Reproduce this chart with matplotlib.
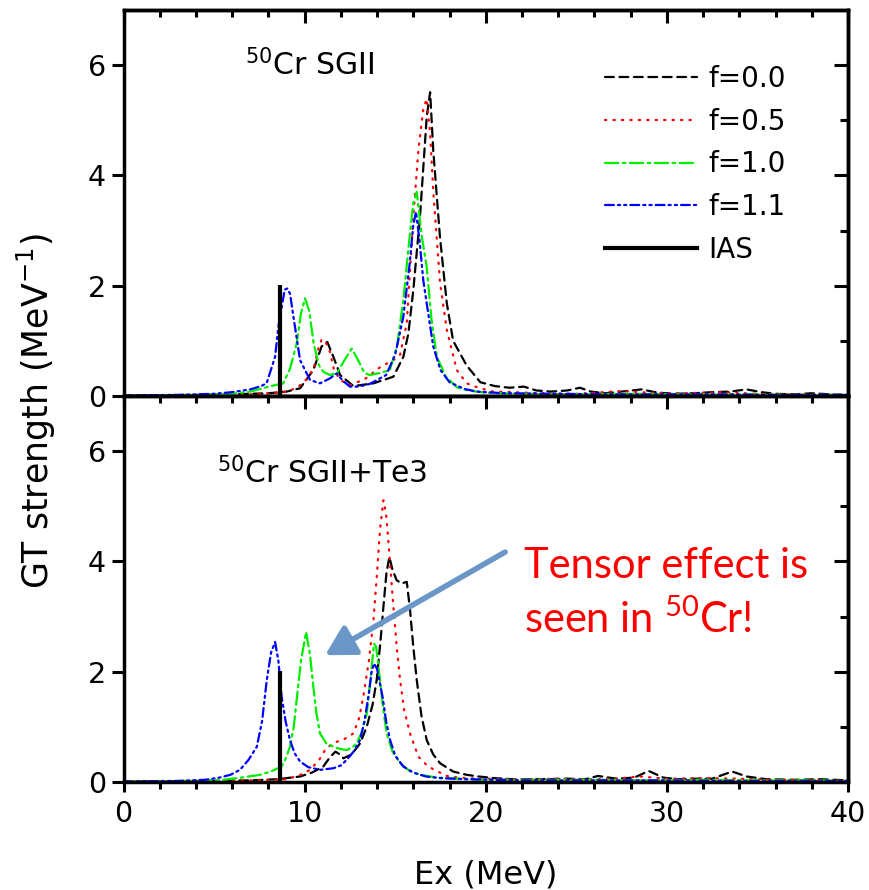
import matplotlib
matplotlib.use('Agg')
import matplotlib.pyplot as plt
from matplotlib.lines import Line2D
from matplotlib.ticker import MultipleLocator, FixedLocator
import matplotlib.patheffects as pe

plt.rcParams['font.family'] = ['DejaVu Sans']
plt.rcParams['mathtext.default'] = 'regular'

# ---- data ----
labels = ['f=0.0', 'f=0.5', 'f=1.0', 'f=1.1']
ias_x = 8.65
ias_height = 2.02

# top panel: SGII
sg_f00_x = [0, 4, 6, 8, 9, 9.75, 10.48, 10.94, 11.25, 11.59, 11.96, 12.7, 13.8, 14.9, 15.45, 15.73,
            16.0, 16.37, 16.74, 16.93, 17.1, 17.47, 17.85, 18.2, 18.95, 19.7, 20.5, 21.3, 22.1, 22.8,
            23.6, 24.5, 25.2, 25.8, 26.6, 27.5, 28.6, 29.5, 30.5, 31.5, 32.5, 33.5, 34.4, 35.2, 36,
            37, 38, 39, 40]
sg_f00_y = [0.01, 0.02, 0.03, 0.05, 0.08, 0.14, 0.47, 0.9, 0.98, 0.71, 0.38, 0.18, 0.23, 0.35, 0.71,
            1.14, 1.92, 3.25, 5.06, 5.51, 4.46, 2.89, 1.68, 1.0, 0.55, 0.25, 0.18, 0.15, 0.17, 0.1,
            0.08, 0.1, 0.15, 0.08, 0.05, 0.08, 0.12, 0.06, 0.04, 0.05, 0.07, 0.08, 0.12, 0.07, 0.04,
            0.03, 0.05, 0.03, 0.02]

sg_f05_x = [0, 5, 7, 8, 8.6, 9.0, 9.6, 10.1, 10.5, 10.75, 10.94, 11.2, 11.4, 11.6, 11.95, 12.5, 13.3,
            14.2, 14.9, 15.27, 15.64, 16.0, 16.28, 16.55, 16.74, 16.93, 17.11, 17.48, 17.85, 18.4,
            18.95, 19.6, 20.4, 21.5, 23, 25, 26.5, 27.5, 29, 31, 33, 35, 37, 40]
sg_f05_y = [0.01, 0.02, 0.03, 0.05, 0.06, 0.08, 0.15, 0.3, 0.5, 0.85, 1.03, 0.95, 0.8, 0.5, 0.29, 0.2,
            0.3, 0.53, 0.65, 0.75, 1.32, 3.25, 4.46, 5.2, 5.39, 4.76, 3.67, 2.04, 1.2, 0.47,
            0.23, 0.15, 0.08, 0.07, 0.05, 0.04, 0.07, 0.09, 0.06, 0.05, 0.07, 0.04, 0.03, 0.02]

sg_f10_x = [0, 4, 6, 7, 7.8, 8.4, 8.82, 9.2, 9.56, 9.8, 10.02, 10.25, 10.5, 10.8, 11.03, 11.4, 11.8,
            12.2, 12.6, 12.95, 13.3, 13.6, 14.2, 14.7, 15.1, 15.45, 15.8, 16.0, 16.19, 16.47, 16.74,
            17.0, 17.3, 17.8, 18.4, 19, 20, 22, 25, 28, 31, 34, 37, 40]
sg_f10_y = [0.01, 0.02, 0.04, 0.08, 0.15, 0.2, 0.23, 0.5, 0.95, 1.5, 1.77, 1.55, 0.95, 0.55, 0.44,
            0.38, 0.42, 0.65, 0.86, 0.65, 0.42, 0.38, 0.42, 0.47, 0.9, 1.74, 2.9, 3.5, 3.7, 2.89,
            2.34, 1.4, 0.71, 0.35, 0.16, 0.1, 0.06, 0.04, 0.03, 0.04, 0.03, 0.03, 0.02, 0.02]

sg_f11_x = [0, 3, 5, 6, 7, 7.6, 7.9, 8.37, 8.55, 8.9, 9.05, 9.2, 9.38, 9.75, 10.3, 10.85, 11.4, 11.77,
            12.1, 12.5, 13.0, 13.6, 14.5, 15.0, 15.45, 15.8, 16.0, 16.15, 16.35, 16.55, 16.74, 17.1,
            17.5, 18.0, 18.8, 19.5, 21, 24, 27, 30, 33, 36, 40]
sg_f11_y = [0.01, 0.02, 0.04, 0.07, 0.12, 0.18, 0.23, 0.71, 1.26, 1.93, 1.95, 1.85, 1.44, 0.65, 0.29,
            0.23, 0.32, 0.41, 0.28, 0.17, 0.17, 0.22, 0.38, 0.75, 1.44, 2.4, 3.1, 3.34, 2.8, 2.1,
            1.68, 0.9, 0.47, 0.25, 0.13, 0.08, 0.05, 0.04, 0.03, 0.03, 0.03, 0.02, 0.02]

# bottom panel: SGII+Te3
te_f00_x = [0, 5, 7, 8.5, 9.75, 10.4, 11.03, 11.4, 11.7, 11.95, 12.14, 12.6, 13.06, 13.43, 13.75,
            13.98, 14.2, 14.35, 14.52, 14.68, 14.85, 15.08, 15.35, 15.64, 15.82, 16.0, 16.19, 16.45,
            16.74, 17.1, 17.48, 18.2, 18.95, 19.6, 20.5, 21.5, 23, 24.5, 25.5, 26.2, 27.2, 28.2,
            29.0, 29.8, 30.6, 31.5, 32.5, 33.6, 34.4, 35.5, 37, 38.5, 40]
te_f00_y = [0.01, 0.02, 0.03, 0.05, 0.1, 0.17, 0.28, 0.45, 0.55, 0.5, 0.43, 0.5, 0.7, 1.0, 1.4,
            1.85, 2.6, 3.18, 3.8, 4.08, 3.85, 3.66, 3.6, 3.63, 3.12, 2.45, 1.85, 1.2,
            0.76, 0.5, 0.34, 0.19, 0.13, 0.1, 0.07, 0.05, 0.05, 0.06, 0.05, 0.11, 0.06, 0.08,
            0.2, 0.08, 0.05, 0.06, 0.06, 0.19, 0.1, 0.05, 0.04, 0.05, 0.03]

te_f05_x = [0, 5, 7, 8.5, 9.0, 9.7, 10.3, 10.8, 11.2, 11.7, 12.2, 12.69, 13.0, 13.24, 13.55, 13.8,
            14.0, 14.16, 14.35, 14.5, 14.62, 14.9, 15.1, 15.27, 15.5, 15.82, 16.28, 16.7, 17.1,
            17.85, 18.5, 19.5, 20, 22, 24, 26, 27.5, 28.5, 30, 32, 34, 36, 38, 40]
te_f05_y = [0.01, 0.02, 0.03, 0.04, 0.05, 0.12, 0.22, 0.4, 0.62, 0.72, 0.78, 0.88, 1.15, 1.55, 2.2,
            2.93, 3.8, 4.57, 5.11, 4.85, 4.38, 3.18, 2.4, 1.85, 1.3, 0.88, 0.46, 0.32, 0.23,
            0.11, 0.08, 0.06, 0.06, 0.05, 0.06, 0.05, 0.07, 0.1, 0.06, 0.07, 0.06, 0.04, 0.03, 0.02]

te_f10_x = [0, 4, 5.5, 6.5, 7.54, 8.2, 8.73, 8.95, 9.19, 9.4, 9.56, 9.8, 10.08, 10.3, 10.48, 10.65,
            10.85, 11.2, 11.59, 11.95, 12.32, 12.6, 12.87, 13.15, 13.43, 13.65, 13.83, 13.95, 14.16,
            14.35, 14.53, 14.85, 15.27, 15.8, 16.4, 17.3, 18.5, 20, 23, 26, 29, 32, 35, 38, 40]
te_f10_y = [0.01, 0.02, 0.04, 0.08, 0.13, 0.2, 0.28, 0.42, 0.64, 1.0, 1.49, 2.2, 2.72, 2.3, 1.73,
            1.25, 0.88, 0.7, 0.64, 0.6, 0.58, 0.62, 0.7, 0.9, 1.24, 1.9, 2.51, 2.45, 1.85,
            1.3, 0.88, 0.55, 0.34, 0.2, 0.13, 0.08, 0.06, 0.04, 0.04, 0.04, 0.03, 0.04, 0.03, 0.03, 0.02]

te_f11_x = [0, 3, 4.5, 5.3, 5.9, 6.43, 6.9, 7.36, 7.65, 7.91, 8.15, 8.37, 8.55, 8.73, 8.95, 9.19,
            9.45, 9.75, 10.2, 10.85, 11.59, 12.0, 12.32, 12.7, 13.06, 13.3, 13.52, 13.7, 13.83, 14.0,
            14.3, 14.5, 14.72, 15.0, 15.45, 16.0, 16.7, 17.5, 19, 22, 26, 30, 34, 40]
te_f11_y = [0.01, 0.02, 0.04, 0.08, 0.13, 0.22, 0.4, 0.64, 1.1, 1.85, 2.35, 2.54, 2.2, 1.55, 1.1,
            0.76, 0.52, 0.37, 0.27, 0.22, 0.25, 0.3, 0.4, 0.55, 0.76, 1.1, 1.55, 2.0, 2.15, 2.05,
            1.55, 1.1, 0.76, 0.48, 0.28, 0.17, 0.1, 0.07, 0.05, 0.03, 0.03, 0.03, 0.02, 0.02]

top_series = [(sg_f00_x, sg_f00_y), (sg_f05_x, sg_f05_y), (sg_f10_x, sg_f10_y), (sg_f11_x, sg_f11_y)]
bot_series = [(te_f00_x, te_f00_y), (te_f05_x, te_f05_y), (te_f10_x, te_f10_y), (te_f11_x, te_f11_y)]

colors = ['black', '#ff0000', '#00ee00', '#0000ff']
styles = [(0, (4, 2.5)), (0, (0.6, 3.2)), (0, (6, 2, 1.2, 2)), (0, (4, 1.8, 1.0, 1.8, 1.0, 1.8))]
lw = 1.6

fig = plt.figure(figsize=(8.69, 8.90), dpi=100)
left, width = 123.5 / 869, (848 - 123.5) / 869
h = 386 / 890
ax1 = fig.add_axes([left, 1 - 396 / 890, width, h])
ax2 = fig.add_axes([left, 1 - 782 / 890, width, h])


def style_axes(ax, show_xlabels):
    ax.set_xlim(0, 40)
    ax.set_ylim(0, 7)
    for s in ax.spines.values():
        s.set_linewidth(2.5)
    ax.xaxis.set_major_locator(MultipleLocator(10))
    ax.xaxis.set_minor_locator(MultipleLocator(2))
    ax.yaxis.set_major_locator(FixedLocator([0, 2, 4, 6]))
    ax.tick_params(axis='x', which='major', direction='out', length=7, width=2.2, pad=6,
                   labelsize=20.5, labelbottom=show_xlabels)
    ax.tick_params(axis='x', which='minor', direction='out', length=5, width=2.2)
    ax.tick_params(axis='y', which='major', direction='out', length=8.5, width=2.2, pad=4,
                   labelsize=20.5)
    # inward ticks on top and right
    sx = ax.secondary_xaxis('top')
    sx.xaxis.set_major_locator(MultipleLocator(10))
    sx.xaxis.set_minor_locator(MultipleLocator(2))
    sx.tick_params(axis='x', which='major', direction='in', length=9.5, width=2.2, labeltop=False)
    sx.tick_params(axis='x', which='minor', direction='in', length=5, width=2.2)
    sx.spines['top'].set_linewidth(2.5)
    sy = ax.secondary_yaxis('right')
    sy.yaxis.set_major_locator(FixedLocator([0, 2, 4, 6]))
    sy.yaxis.set_minor_locator(FixedLocator([1, 3, 5]))
    sy.tick_params(axis='y', which='major', direction='in', length=10, width=2.2, labelright=False)
    sy.tick_params(axis='y', which='minor', direction='in', length=5.5, width=2.2)
    sy.spines['right'].set_linewidth(2.5)


for ax, series in [(ax1, top_series), (ax2, bot_series)]:
    for (x, y), c, ls, lab in zip(series, colors, styles, labels):
        ax.plot(x, y, color=c, linestyle=ls, lw=lw, label=lab, dash_capstyle='round')
    ax.plot([ias_x, ias_x], [0, ias_height], color='black', lw=3, solid_capstyle='butt', label='IAS')

style_axes(ax1, False)
style_axes(ax2, True)

ax1.text(6.7, 5.82, '$^{50}$Cr SGII', fontsize=21.5, va='baseline')
ax2.text(5.16, 5.42, '$^{50}$Cr SGII+Te3', fontsize=21.5, va='baseline')

handles = [Line2D([], [], color=c, linestyle=ls, lw=lw, dash_capstyle='round')
           for c, ls in zip(colors, styles)]
handles.append(Line2D([], [], color='black', lw=3))
ax1.legend(handles, labels + ['IAS'], loc='upper left', bbox_to_anchor=(0.665, 0.858),
           frameon=False, fontsize=20, handlelength=3.3, handletextpad=0.4,
           labelspacing=0.53, borderaxespad=0, borderpad=0)

# arrow + red comment
ax2.annotate('', xy=(11.13, 2.30), xytext=(21.07, 4.17),
             arrowprops=dict(arrowstyle='-|>,head_length=0.8,head_width=0.45',
                             color='#6a96c8', lw=4, shrinkA=0, shrinkB=0, mutation_scale=22,
                             path_effects=[pe.SimplePatchShadow(offset=(2, -2), alpha=0.3),
                                           pe.Normal()]))
ax2.text(22.1, 3.70, 'Tensor effect is', color='#ff0000', fontsize=30, family='Lato', va='baseline')
ax2.text(22.1, 2.70, 'seen in $^{50}$Cr!', color='#ff0000', fontsize=30, family='Lato', va='baseline')

fig.text(36 / 869, 1 - 411 / 890, 'GT strength (MeV$^{-1}$)', rotation=90, ha='center', va='center',
         fontsize=25)
fig.text(486 / 869, 7 / 890, 'Ex (MeV)', ha='center', va='baseline', fontsize=23)

fig.savefig('out.png', dpi=100)
